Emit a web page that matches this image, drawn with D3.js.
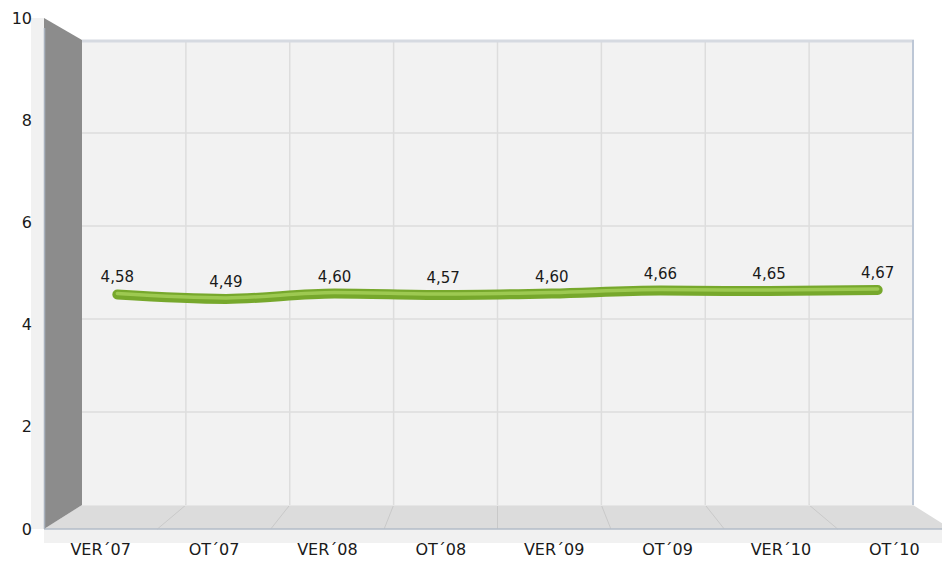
<!DOCTYPE html>
<html>
<head>
<meta charset="utf-8">
<script src="https://cdn.jsdelivr.net/npm/d3@7/dist/d3.min.js"></script>
<style>
  html, body { margin: 0; padding: 0; background: #ffffff; }
  svg { display: block; }
  text { font-family: "DejaVu Sans", Verdana, sans-serif; fill: #1a1a1a; }
</style>
</head>
<body>
<svg id="chart" width="942" height="565"></svg>
<script>
// Semester labels and average values
const categories = ["VER\u00B407", "OT\u00B407", "VER\u00B408", "OT\u00B408", "VER\u00B409", "OT\u00B409", "VER\u00B410", "OT\u00B410"];
const values = [4.58, 4.49, 4.60, 4.57, 4.60, 4.66, 4.65, 4.67];
const yTicks = [0, 2, 4, 6, 8, 10];
const yMax = 10;

const svg = d3.select("#chart");

// Front and back planes of the pseudo-3D box
const xFront = d3.scaleBand().domain(categories).range([44, 951]);
const xBack = d3.scaleBand().domain(categories).range([82, 913]);
const yFront = d3.scaleLinear().domain([0, yMax]).range([529, 18]);
const yBack = d3.scaleLinear().domain([0, yMax]).range([505, 40]);

const lerp = (a, b, t) => a + (b - a) * t;
// category edge on a plane, and a point projected at depth t (0 = front, 1 = back)
const edgeX = (i, scale) => scale.range()[0] + i * scale.step();
const px = (c, t) => lerp(xFront(c) + xFront.bandwidth() / 2, xBack(c) + xBack.bandwidth() / 2, t);
const py = (v, t) => lerp(yFront(v), yBack(v), t);

const [fx0, fx1] = xFront.range();
const [bx0, bx1] = xBack.range();

// Front-edge strips of the walls
svg.append("rect").attr("x", 31).attr("y", yFront(yMax)).attr("width", fx0 - 31)
  .attr("height", yFront(0) - yFront(yMax)).attr("fill", "#f1f1f1");
svg.append("rect").attr("x", fx0).attr("y", yFront(0)).attr("width", 942 - fx0)
  .attr("height", 14).attr("fill", "#f1f1f1");

// Back wall
svg.append("rect").attr("x", bx0).attr("y", yBack(yMax)).attr("width", bx1 - bx0)
  .attr("height", yBack(0) - yBack(yMax)).attr("fill", "#f2f2f2");

// Back wall grid
svg.append("g").selectAll("line").data(yTicks.filter(v => v > 0 && v < yMax)).join("line")
  .attr("x1", bx0).attr("x2", bx1)
  .attr("y1", d => yBack(d)).attr("y2", d => yBack(d))
  .attr("stroke", "#dddddd").attr("stroke-width", 1.5);
svg.append("g").selectAll("line").data(d3.range(1, categories.length)).join("line")
  .attr("x1", i => edgeX(i, xBack)).attr("x2", i => edgeX(i, xBack))
  .attr("y1", yBack(yMax)).attr("y2", yBack(0))
  .attr("stroke", "#dddddd").attr("stroke-width", 1.5);

// Back wall borders
svg.append("line").attr("x1", bx0).attr("x2", bx1 + 1).attr("y1", yBack(yMax) + 1).attr("y2", yBack(yMax) + 1)
  .attr("stroke", "#d6dae1").attr("stroke-width", 3);
svg.append("line").attr("x1", bx1).attr("x2", bx1).attr("y1", yBack(yMax)).attr("y2", yBack(0))
  .attr("stroke", "#bdc7d6").attr("stroke-width", 2);

// Floor
svg.append("polygon")
  .attr("points", [[fx0, yFront(0)], [bx0, yBack(0)], [bx1, yBack(0)], [fx1, yFront(0)]].map(p => p.join(",")).join(" "))
  .attr("fill", "#dcdcdc");
svg.append("g").selectAll("line").data(d3.range(1, categories.length)).join("line")
  .attr("x1", i => edgeX(i, xBack)).attr("y1", yBack(0))
  .attr("x2", i => edgeX(i, xFront)).attr("y2", yFront(0))
  .attr("stroke", "#c9c9c9").attr("stroke-width", 1);
svg.append("line").attr("x1", bx0).attr("x2", bx1).attr("y1", yBack(0) + 0.5).attr("y2", yBack(0) + 0.5)
  .attr("stroke", "#e6e6e6").attr("stroke-width", 1);
svg.append("line").attr("x1", fx0).attr("x2", 942).attr("y1", yFront(0)).attr("y2", yFront(0))
  .attr("stroke", "#b3bcc8").attr("stroke-width", 1.5);

// Left wall
svg.append("polygon")
  .attr("points", [[fx0, yFront(yMax)], [bx0, yBack(yMax)], [bx0, yBack(0)], [fx0, yFront(0)]].map(p => p.join(",")).join(" "))
  .attr("fill", "#8c8c8c");
svg.append("line").attr("x1", fx0 + 0.5).attr("x2", fx0 + 0.5).attr("y1", yFront(yMax) + 10).attr("y2", yFront(0))
  .attr("stroke", "#a9b2be").attr("stroke-width", 1.5);

// Value line at mid depth
const depth = 0.5;
const pts = categories.map((c, i) => [px(c, depth), py(values[i], depth) + 1]);
const line = d3.line().curve(d3.curveMonotoneX);
svg.append("path").attr("d", line(pts)).attr("fill", "none")
  .attr("stroke", "#77a82c").attr("stroke-width", 10).attr("stroke-linecap", "round");
svg.append("path").attr("d", line(pts.map(p => [p[0], p[1] - 1]))).attr("fill", "none")
  .attr("stroke", "#9dc951").attr("stroke-width", 3.5).attr("stroke-linecap", "round");

// Value labels
const fmt = v => d3.format(".2f")(v).replace(".", ",");
svg.append("g").selectAll("text").data(categories).join("text")
  .attr("x", (c) => px(c, depth))
  .attr("y", (c, i) => py(values[i], depth) - 11)
  .attr("text-anchor", "middle")
  .attr("font-size", 15)
  .text((c, i) => fmt(values[i]));

// Y axis on the front plane
const yAxis = svg.append("g").attr("transform", `translate(${fx0},0)`)
  .call(d3.axisLeft(yFront).tickValues(yTicks).tickSize(0).tickPadding(12));
yAxis.select(".domain").remove();
yAxis.selectAll("text").attr("font-size", 16).attr("font-family", "DejaVu Sans, sans-serif").attr("fill", "#1a1a1a");

// X axis on the front plane
const xAxis = svg.append("g").attr("transform", `translate(0,${yFront(0)})`)
  .call(d3.axisBottom(xFront).tickSize(0).tickPadding(15));
xAxis.select(".domain").remove();
xAxis.selectAll("text").attr("font-size", 16).attr("font-family", "DejaVu Sans, sans-serif").attr("fill", "#1a1a1a");
</script>
</body>
</html>
